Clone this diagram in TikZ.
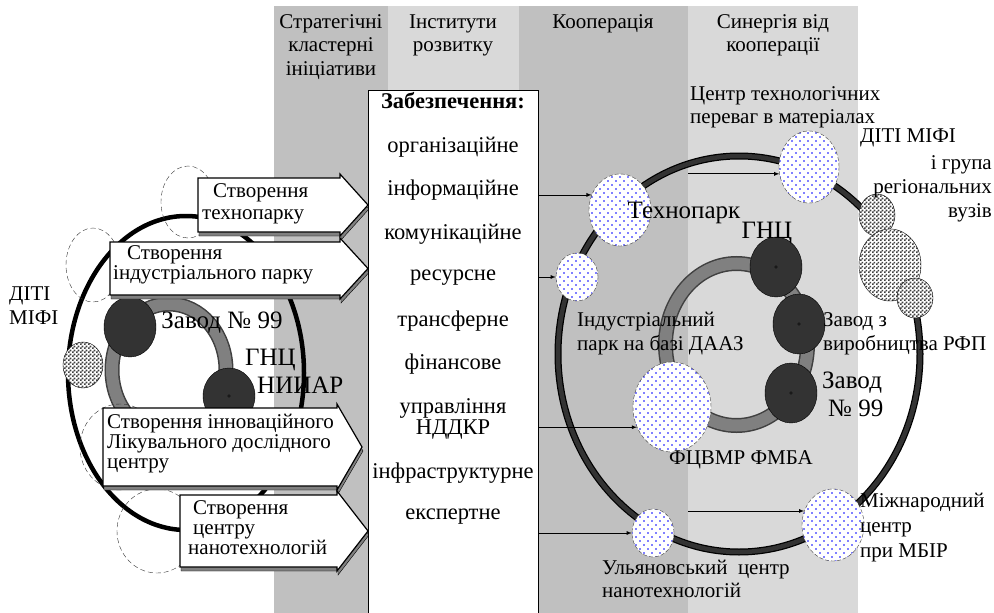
\documentclass[tikz,border=0pt]{standalone}
\usepackage{fontspec}
\setmainfont{Liberation Serif}
\usetikzlibrary{shapes.geometric,patterns}

\definecolor{colA}{RGB}{192,192,192}
\definecolor{colB}{RGB}{217,217,217}
\definecolor{plant}{RGB}{51,51,51}
\definecolor{ringG}{RGB}{128,128,128}

\pgfdeclarepatternformonly{bluedots}{\pgfpoint{-1pt}{-1pt}}{\pgfpoint{6pt}{6pt}}{\pgfpoint{8pt}{8pt}}{%
  \pgfpathcircle{\pgfqpoint{0pt}{0pt}}{0.9pt}%
  \pgfpathcircle{\pgfqpoint{4pt}{4pt}}{0.9pt}%
  \pgfusepath{fill}}
\pgfdeclarepatternformonly{checker}{\pgfpointorigin}{\pgfpoint{4pt}{4pt}}{\pgfpoint{4pt}{4pt}}{%
  \pgfpathrectangle{\pgfpointorigin}{\pgfpoint{2pt}{2pt}}%
  \pgfpathrectangle{\pgfpoint{2pt}{2pt}}{\pgfpoint{2pt}{2pt}}%
  \pgfusepath{fill}}

\newcommand\nsz{\fontsize{21}{23.5}\selectfont}
\newcommand\asz{\fontsize{21}{20}\selectfont}
\newcommand\bsz{\fontsize{25}{28}\selectfont}
\newcommand\isz{\fontsize{22.5}{21}\selectfont}
\newcommand\hsz{\fontsize{21}{23.5}\selectfont}

\begin{document}
\begin{tikzpicture}
        [x=1pt,y=-1pt,
         lbl/.style={inner sep=0pt,font=\nsz},
         big/.style={inner sep=0pt,font=\bsz},
         item/.style={inner sep=0pt,font=\isz},
         atxt/.style={inner sep=0pt,font=\asz,align=left,anchor=west},
         hd/.style={inner sep=0pt,align=center,font=\hsz},
         dotc/.style={ellipse,inner sep=0pt,draw=black!75,dash pattern=on 4pt off 2pt,preaction={fill=white},pattern=bluedots,pattern color=blue},
         chk/.style={ellipse,inner sep=0pt,draw,preaction={fill=white},pattern=checker,pattern color=black!75},
         plt/.style={ellipse,inner sep=0pt,draw,fill=plant},
         dsh/.style={ellipse,inner sep=0pt,draw=black!80,dash pattern=on 5pt off 3pt},
         barr/.style={draw,fill=white,line width=1.2pt},
         shd/.style={draw,fill=ringG},
         con/.style={-latex,thick}]
        \useasboundingbox (0,0) rectangle (994,613);

        % columns
        \foreach \xa/\xb/\c in {274/388/colA,388/519/colB,519/688/colA,688/858/colB}
        {\fill[\c] (\xa,6) rectangle (\xb,613);}
        \coordinate (c4) at (688,0);

        \node[hd] (h1) at (331,47) {Стратегічні\\кластерні\\ініціативи};
        \node[hd] (h2) at (453,35.5) {Інститути\\розвитку};
        \node[hd] (h3) at (603,23.5) {Кооперація};
        \node[hd] (h4) at (773,35.5) {Синергія від\\кооперації};

        % left cluster
        \draw[ringG!50!black,line width=15] (169,370) ellipse (57 and 66);
        \draw[ringG,line width=12] (169,370) ellipse (57 and 66);
        \node[plt,minimum width=52,minimum height=60] (zl) at (130,327) {};
        \node[plt,minimum width=52,minimum height=56] (nl) at (229,396) {};
        \draw[fill=plant] (nl.center) circle (1.3);
        \node[big] (zlt) at (222,323) {Завод № 99};
        \node[big,align=left,anchor=west] (nlt) at (245,371) {ГНЦ\\\hspace*{12pt}НИИАР};
        \node[lbl,align=left,anchor=west] (dl) at (9,305.5) {ДІТІ\\МІФІ};
        \draw[line width=4.5] (186,373) ellipse (118 and 157);
        \node[chk,minimum width=40,minimum height=46] (kl) at (83,365) {};
        \node[dsh,minimum width=54,minimum height=72] (d1) at (188,202) {};
        \node[dsh,minimum width=54,minimum height=74] (d2) at (93,265) {};
        \node[dsh,minimum width=80,minimum height=86] (d3) at (120,447) {};
        \node[dsh,minimum width=80,minimum height=84] (d4) at (157,531) {};

        % block arrows
        \foreach \xl/\yt/\yb/\xn/\xt in {198/178/232/340/368,110/242/295/340/368,103/408/486/337/362,180/495/567/337/368}
        {\draw[shd,shift={(1,4)}] (\xl,\yt) -- (\xn,\yt) -- (\xn,\yt-4) -- (\xt,{(\yt+\yb)/2})
            -- (\xn,\yb+4) -- (\xn,\yb) -- (\xl,\yb) -- cycle;
         \draw[barr] (\xl,\yt) -- (\xn,\yt) -- (\xn,\yt-4) -- (\xt,{(\yt+\yb)/2})
            -- (\xn,\yb+4) -- (\xn,\yb) -- (\xl,\yb) -- cycle;}
        \node[atxt,font=\fontsize{21}{22}\selectfont] (a1) at (202,204) {\hspace*{11pt}Створення\\технопарку};
        \node[atxt] (a2) at (113,265) {\hspace*{14pt}Створення\\індустріального парку};
        \node[atxt] (a3) at (107,444) {Створення інноваційного\\Лікувального дослідного\\центру};
        \node[atxt] (a4) at (188,528) {\hspace*{5pt}Створення\\\hspace*{5pt}центру\\нанотехнологій};

        % box
        \node[draw,fill=white,line width=1.2pt,inner sep=0pt,anchor=north west,minimum width=170,minimum height=540] (zab) at (368,90) {};
        \node[item,font=\isz\bfseries] (it0) at (453,101) {Забезпечення:};
        \foreach \y/\w [count=\i] in {147/організаційне,190.5/інформаційне,234/комунікаційне,277.5/ресурсне,321/трансферне,364.5/фінансове,473/інфраструктурне,517/експертне}
        {\node[item] (it\i) at (453,\y) {\w};}
        \node[item,align=center] (it9) at (453,418.5) {управління\\НДДКР};

        % right cluster
        \draw[line width=7] (739,354) ellipse (181 and 198);
        \draw[plant,line width=4.5] (739,354) ellipse (181 and 198);
        \draw[ringG!50!black,line width=15] (736.5,344.5) ellipse (71 and 81);
        \draw[ringG,line width=12] (736.5,344.5) ellipse (71 and 81);
        \node[plt,minimum width=52,minimum height=60] (gr) at (776,267) {};
        \node[plt,minimum width=52,minimum height=60] (zr) at (799,324) {};
        \node[plt,minimum width=52,minimum height=60] (z9) at (791,393) {};
        \foreach \n in {gr,zr,z9}
        {\draw[fill=plant] (\n.center) circle (1.3);}
        \node[dotc,minimum width=62,minimum height=72] (tp) at (620,210) {};
        \node[dotc,minimum width=42,minimum height=48] (ip) at (577,277) {};
        \node[dotc,minimum width=60,minimum height=72] (ct) at (809,167) {};
        \node[dotc,minimum width=78,minimum height=90] (fc) at (672,407) {};
        \node[dotc,minimum width=42,minimum height=48] (uc) at (653,533) {};
        \node[dotc,minimum width=62,minimum height=72] (mc) at (833,525) {};
        \node[chk,minimum width=36,minimum height=42] (k1) at (877,215) {};
        \node[chk,minimum width=62,minimum height=72] (k2) at (890,265) {};
        \node[chk,minimum width=36,minimum height=40] (k3) at (915,298) {};

        \draw[con] (zab.east |- tp.152) -- (tp.152);
        \draw[con] (zab.east |- ip.west) -- (ip.west);
        \draw[con] (zab.east |- fc.210) -- (fc.210);
        \draw[con] (zab.east |- uc.west) -- (uc.west);
        \draw[con] (c4 |- ct.193) -- (ct.193);
        \draw[con] (c4 |- mc.154) -- (mc.154);

        \node[lbl,align=left,anchor=west] (ctt) at (690,107.5) {Центр технологічних\\переваг в матеріалах};
        \node[lbl,anchor=west] (dm) at (860,138) {ДІТІ МІФІ};
        \node[lbl,align=right,anchor=east,font=\fontsize{21}{24}\selectfont] (rg) at (992,189) {і група\\регіональних\\вузів};
        \node[big] (tpt) at (684,213) {Технопарк};
        \node[big] (grt) at (767,233) {ГНЦ};
        \node[lbl,align=left,anchor=west] (ipt) at (577,333.5) {Індустріальний\\парк на базі ДААЗ};
        \node[lbl,align=left,anchor=west] (zrt) at (823,334) {Завод з\\виробництва РФП};
        \node[big,align=left,anchor=west] (z9t) at (822,394) {Завод\\\hspace*{6pt}№ 99};
        \node[lbl] (fct) at (741,460) {ФЦВМР ФМБА};
        \node[lbl,align=left,anchor=west,font=\fontsize{21}{25}\selectfont] (mct) at (860,528) {Міжнародний\\центр\\при МБІР};
        \node[lbl,align=left,anchor=west] (uct) at (602,579) {Ульяновський\ \ центр\\нанотехнологій};
      \end{tikzpicture}
\end{document}
